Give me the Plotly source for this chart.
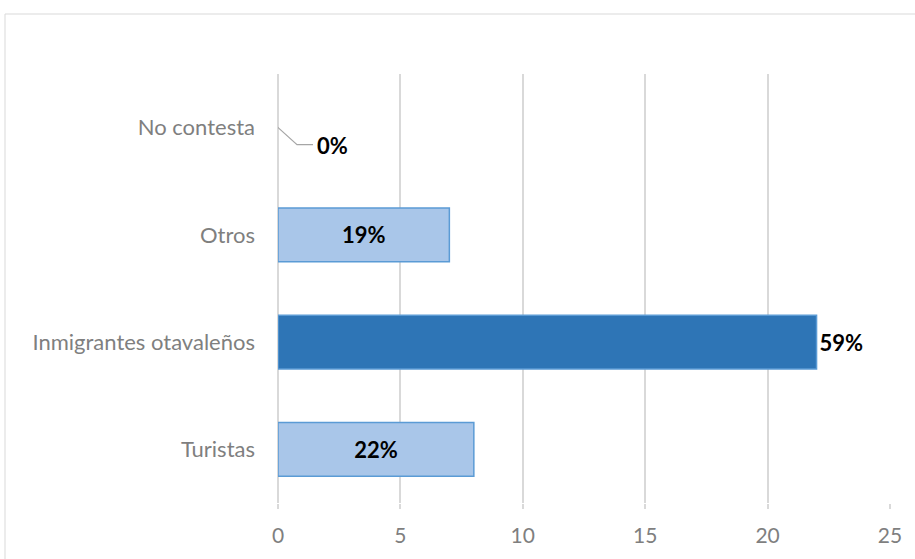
import plotly.graph_objects as go

# Survey answers (bottom to top) and their counts
categories = ["Turistas", "Inmigrantes otavaleños", "Otros", "No contesta"]
counts = [8, 22, 7, 0]
pct_labels = ["22%", "59%", "19%", "0%"]

x_ticks = [0, 5, 10, 15, 20, 25]

W, H = 915, 559
ML, MR, MT, MB = 278, 25, 74, 56
PW, PH = W - ML - MR, H - MT - MB

light = "#a9c6e9"
dark = "#2e75b6"
edge = "#5b9bd5"
FONT = "Lato, Carlito, sans-serif"

fill_colors = [dark if c == max(counts) else light for c in counts]
edge_widths = [0 if c == 0 else 1.5 for c in counts]
positions = ["outside" if c == max(counts) else ("none" if c == 0 else "inside") for c in counts]

fig = go.Figure()
fig.add_trace(go.Bar(
    y=categories,
    x=counts,
    orientation="h",
    width=0.5,
    marker=dict(color=fill_colors, line=dict(color=edge, width=edge_widths)),
    text=["<b>%s</b>" % t for t in pct_labels],
    textposition=positions,
    insidetextanchor="middle",
    textfont=dict(family=FONT, size=22, color="black"),
    outsidetextfont=dict(family=FONT, size=22, color="black"),
    cliponaxis=False,
    hoverinfo="skip",
))

# zero-valued bar: label pulled out with a leader line
zero_idx = counts.index(0)
fig.add_annotation(
    x=0, y=categories[zero_idx], xref="x", yref="y",
    text="<b>%s</b>" % pct_labels[zero_idx],
    showarrow=False, xanchor="left", yanchor="middle",
    xshift=37, yshift=-18,
    font=dict(family=FONT, size=22, color="black"),
)
fig.add_shape(
    type="path", xref="x", yref="y",
    xsizemode="pixel", ysizemode="pixel",
    xanchor=0, yanchor=zero_idx,
    path="M -1,1 L 19,-17 L 35,-17",
    line=dict(color="#a6a6a6", width=1.2),
)

# outer chart frame
fig.add_shape(
    type="rect", xref="paper", yref="paper",
    x0=(5 - ML) / PW, x1=(W + 5 - ML) / PW,
    y0=-(MB + 5) / PH, y1=(H - 14 - MB) / PH,
    line=dict(color="#d9d9d9", width=1), layer="below",
)

fig.update_layout(
    width=W, height=H,
    margin=dict(l=ML, r=MR, t=MT, b=MB),
    paper_bgcolor="white", plot_bgcolor="white",
    showlegend=False,
    bargap=0.5,
    font=dict(family=FONT, color="#7f7f7f"),
    xaxis=dict(
        range=[0, 25], tickvals=x_ticks,
        showgrid=True, gridcolor="#d9d9d9", gridwidth=1.5,
        zeroline=True, zerolinecolor="#d9d9d9", zerolinewidth=1.5,
        showline=False,
        ticks="outside", ticklen=5, tickcolor="#d9d9d9", tickwidth=1.5,
        ticklabelstandoff=9,
        tickfont=dict(size=21, color="#7f7f7f"),
        fixedrange=True,
    ),
    yaxis=dict(
        type="category", categoryorder="array", categoryarray=categories,
        range=[-0.5, len(categories) - 0.5],
        showgrid=False, zeroline=False, showline=False, ticks="",
        ticklabelstandoff=22,
        tickfont=dict(size=22, color="#7f7f7f"),
        fixedrange=True,
    ),
)

fig.write_html("out.html")
